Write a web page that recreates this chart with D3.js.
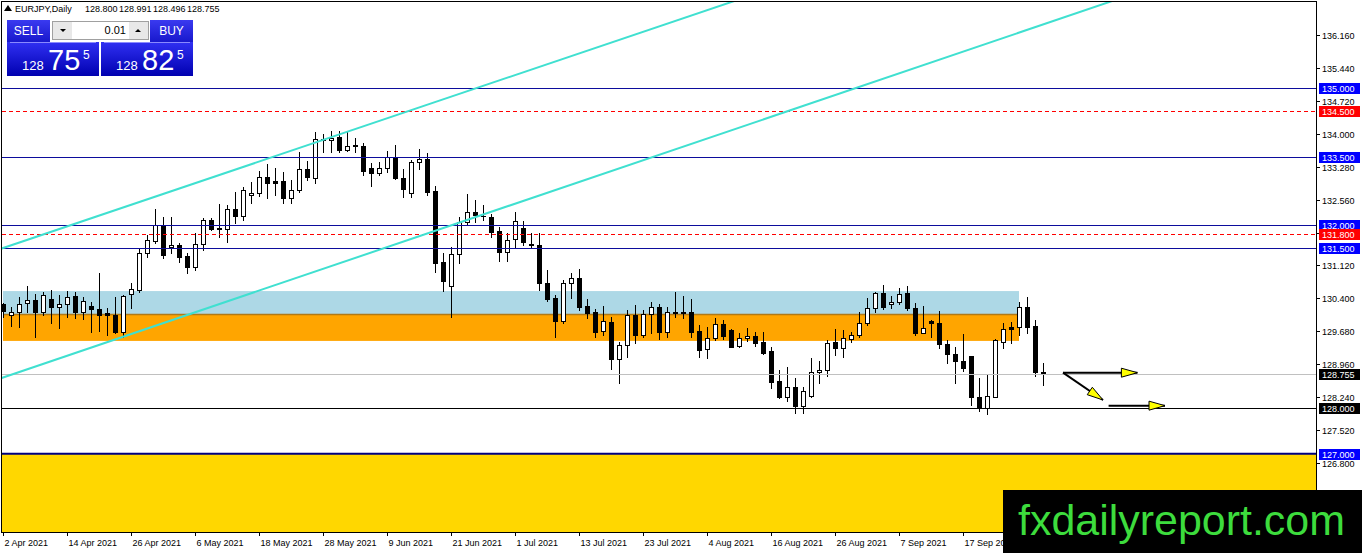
<!DOCTYPE html>
<html>
<head>
<meta charset="utf-8">
<title>EURJPY,Daily</title>
<script src="https://cdnjs.cloudflare.com/ajax/libs/d3/7.8.5/d3.min.js"></script>
<style>
  body { margin: 0; background: #fff; }
  svg { display: block; font-family: "Liberation Sans", Arial, sans-serif; }
</style>
</head>
<body>
<div id="chart"></div>
<script>
// daily EURJPY bars, 2 Apr 2021 .. 1 Oct 2021 (index 0..130)
var open = [130.27,130.03,130.10,130.29,130.37,130.11,130.39,130.22,130.27,130.45,
  130.11,130.23,130.17,130.09,130.04,129.66,130.49,130.58,131.39,131.66,
  132.01,131.52,131.57,131.33,131.08,131.58,132.11,131.95,131.91,132.35,
  132.21,132.65,132.70,133.05,132.96,132.97,132.60,132.76,133.22,133.04,
  133.89,133.87,133.94,133.65,133.76,133.73,133.25,133.14,133.25,133.50,
  133.03,132.70,133.38,133.44,132.75,131.19,130.66,131.36,132.06,132.29,
  132.21,132.17,131.87,131.42,131.69,131.94,131.60,131.57,130.74,130.40,
  129.91,130.73,130.84,130.23,130.11,129.69,129.88,129.07,129.37,130.03,
  129.59,130.05,130.22,129.67,130.09,130.10,130.10,129.69,129.29,129.53,
  129.84,129.71,129.36,129.53,129.58,129.45,129.26,128.59,128.25,128.46,
  128.05,128.27,128.78,128.83,129.44,129.31,129.51,129.60,129.86,130.18,
  130.51,130.28,130.33,130.51,130.20,129.65,129.91,129.86,129.40,129.18,
  129.04,129.14,128.25,128.01,128.25,129.44,129.77,129.77,130.21,129.80,
  128.800];
var high = [130.29,130.21,130.44,130.67,130.49,130.55,130.58,130.47,130.57,130.54,
  130.44,130.31,130.96,130.20,130.44,130.47,130.73,131.47,131.79,132.35,
  132.19,132.17,131.61,131.39,131.82,132.15,132.15,132.46,132.44,132.73,
  132.84,132.95,133.19,133.34,133.26,133.17,132.99,133.61,133.40,134.03,
  133.99,134.06,134.07,134.05,133.90,133.79,133.37,133.39,133.62,133.75,
  133.22,133.43,133.66,133.57,132.86,131.40,131.53,132.17,132.68,132.55,
  132.44,132.24,131.96,131.82,132.30,132.09,131.82,131.82,131.01,130.47,
  130.80,130.96,131.04,130.39,130.16,130.23,129.99,129.45,130.15,130.26,
  130.15,130.31,130.28,130.21,130.53,130.45,130.39,129.82,129.77,129.97,
  129.93,129.72,129.64,129.75,129.67,129.67,129.34,128.83,128.89,128.65,
  128.47,129.09,129.02,129.49,129.72,129.71,129.67,130.11,130.40,130.55,
  130.69,130.46,130.62,130.66,130.29,130.23,129.92,130.13,129.49,129.34,
  129.62,129.15,128.65,128.73,129.51,129.86,129.89,130.31,130.42,129.93,
  128.991];
var low = [130.00,129.80,129.78,130.11,129.55,130.04,129.87,129.76,130.00,129.97,
  129.95,129.67,129.69,129.60,129.65,129.56,130.18,130.53,131.31,131.61,
  131.28,131.40,131.20,130.96,131.01,131.46,131.90,131.75,131.64,132.04,
  132.11,132.49,132.64,132.60,132.66,132.48,132.49,132.73,132.99,132.92,
  133.60,133.60,133.61,133.62,133.61,133.10,132.86,133.10,133.17,133.02,
  132.62,132.62,133.23,132.66,130.98,130.57,130.00,131.18,132.01,132.08,
  132.11,131.74,131.22,131.22,131.53,131.57,131.50,130.58,130.35,129.56,
  129.87,130.40,130.15,129.97,129.56,129.60,128.85,128.54,129.11,129.43,
  129.55,129.64,129.51,129.56,129.99,129.97,129.56,129.11,129.09,129.49,
  129.51,129.33,129.34,129.47,129.36,129.18,128.45,128.22,128.16,127.89,
  127.89,128.25,128.54,128.71,129.16,129.11,129.44,129.55,129.82,130.11,
  130.16,130.20,130.28,130.15,129.60,129.64,129.56,129.31,128.99,128.56,
  128.82,128.07,127.94,127.87,128.24,129.32,129.43,129.60,129.64,128.70,
  128.496];
var close = [130.12,130.10,130.27,130.37,130.11,130.47,130.22,130.28,130.44,130.11,
  130.34,130.16,130.04,130.03,129.67,130.46,130.60,131.39,131.68,132.01,
  131.35,131.57,131.31,131.08,131.58,132.11,131.91,131.91,132.35,132.21,
  132.77,132.70,133.05,132.93,132.93,132.60,132.77,133.22,133.05,133.88,
  133.86,133.90,133.65,133.73,133.73,133.19,133.14,133.25,133.50,133.03,
  132.79,133.39,133.44,132.73,131.18,130.77,131.36,132.08,132.28,132.22,
  132.20,131.86,131.42,131.68,132.09,131.64,131.57,130.73,130.38,129.91,
  130.74,130.84,130.22,130.09,129.67,129.91,129.07,129.38,130.03,129.59,
  130.05,130.22,129.67,130.10,130.10,130.09,129.67,129.27,129.53,129.84,
  129.58,129.34,129.53,129.58,129.43,129.21,128.58,128.25,128.46,128.05,
  128.38,128.78,128.83,129.42,129.31,129.53,129.60,129.86,130.18,130.51,
  130.22,130.33,130.50,130.20,129.65,129.75,129.86,129.40,129.18,129.04,
  128.88,128.24,128.01,128.27,129.49,129.73,129.73,130.21,129.78,128.80,
  128.755];

var tickBars = [0, 8, 16, 24, 32, 40, 48, 56, 64, 72, 80, 88, 96, 104, 112, 120];
var tickLabels = ["2 Apr 2021", "14 Apr 2021", "26 Apr 2021", "6 May 2021", "18 May 2021",
  "28 May 2021", "9 Jun 2021", "21 Jun 2021", "1 Jul 2021", "13 Jul 2021", "23 Jul 2021",
  "4 Aug 2021", "16 Aug 2021", "26 Aug 2021", "7 Sep 2021", "17 Sep 2021"];
var priceTicks = [136.16, 135.44, 134.72, 134.00, 133.28, 132.56, 131.84, 131.12,
  130.40, 129.68, 128.96, 128.24, 127.52, 126.80];

var blueLevels = [135.0, 133.5, 132.0, 131.5];
var redLevels = [134.5, 131.8];
var supportLevel = 128.0;
var floorLevel = 127.0;
var bidPrice = 128.755;
var askPrice = 128.825;
var lotSize = "0.01";

// zones: [top price, bottom price, last bar]
var zoneBlue = [130.56, 130.05, 127.0];
var zoneOrange = [130.05, 129.47, 127.0];

// channel rays: two points each [bar, price]
var channelA = [[0, 131.50], [90, 136.82]];
var channelB = [[0, 128.67], [130, 136.39]];

// projection arrows [bar, price]
var arrowSide = [[132.5, 128.775], [141.8, 128.775]];
var arrowDrop = [[132.5, 128.775], [137.5, 128.178]];
var arrowFlat = [[138.2, 128.054], [145.25, 128.054]];

var W = 1362, H = 553;
var L = 2, T = 2, R = 1316, B = 532;

var x = d3.scaleLinear().domain([0, 130]).range([3, 1043]);
var y = d3.scaleLinear().domain([126.8, 136.16]).range([463, 35]);
var fmt = d3.format(".3f");

var svg = d3.select("#chart").append("svg")
  .attr("width", W).attr("height", H);

var defs = svg.append("defs");
defs.append("clipPath").attr("id", "plot")
  .append("rect").attr("x", L).attr("y", T).attr("width", R - L).attr("height", B - T);
var g1 = defs.append("linearGradient").attr("id", "priceBox")
  .attr("x1", 0).attr("y1", 0).attr("x2", 0).attr("y2", 1);
g1.append("stop").attr("offset", "0%").attr("stop-color", "#3030f2");
g1.append("stop").attr("offset", "100%").attr("stop-color", "#0000b0");
var g2 = defs.append("linearGradient").attr("id", "btn")
  .attr("x1", 0).attr("y1", 0).attr("x2", 0).attr("y2", 1);
g2.append("stop").attr("offset", "0%").attr("stop-color", "#3a3af0");
g2.append("stop").attr("offset", "100%").attr("stop-color", "#1818cc");

var plot = svg.append("g").attr("clip-path", "url(#plot)");

// background zones
plot.append("rect")
  .attr("x", L).attr("y", y(floorLevel))
  .attr("width", R - L).attr("height", B - y(floorLevel))
  .attr("fill", "#ffd700");
plot.append("rect")
  .attr("x", L + 1).attr("y", y(zoneBlue[0]))
  .attr("width", x(zoneBlue[2]) - L - 1).attr("height", y(zoneBlue[1]) - y(zoneBlue[0]))
  .attr("fill", "#add8e6");
plot.append("rect")
  .attr("x", L + 1).attr("y", y(zoneOrange[0]))
  .attr("width", x(zoneOrange[2]) - L - 1).attr("height", y(zoneOrange[1]) - y(zoneOrange[0]))
  .attr("fill", "#ffa500");
plot.append("line")
  .attr("x1", L + 1).attr("x2", x(zoneOrange[2]))
  .attr("y1", y(zoneOrange[0])).attr("y2", y(zoneOrange[0]))
  .attr("stroke", "#b07a18").attr("stroke-width", 1.5);

// candles
var bars = d3.range(open.length);
var px = function (i) { return Math.round(x(i)) + 0.5; };
var candles = plot.append("g").attr("shape-rendering", "crispEdges");
candles.selectAll("line.wick").data(bars).enter().append("line")
  .attr("class", "wick")
  .attr("x1", px).attr("x2", px)
  .attr("y1", function (i) { return Math.round(y(high[i])); })
  .attr("y2", function (i) { return Math.round(y(low[i])) + 1; })
  .attr("stroke", "#000").attr("stroke-width", 1);
candles.selectAll("rect.body").data(bars).enter().append("rect")
  .attr("class", "body")
  .attr("x", function (i) { return px(i) - 2; })
  .attr("y", function (i) { return Math.round(y(Math.max(open[i], close[i]))) + 0.5; })
  .attr("width", 4)
  .attr("height", function (i) {
    return Math.max(0.01, Math.round(y(Math.min(open[i], close[i]))) - Math.round(y(Math.max(open[i], close[i]))));
  })
  .attr("fill", function (i) { return close[i] >= open[i] ? "#fff" : "#000"; })
  .attr("stroke", "#000").attr("stroke-width", 1);

// horizontal levels
function hline(price, color, width, dash) {
  var yy = Math.round(y(price)) + 0.5;
  plot.append("line")
    .attr("x1", L).attr("x2", R).attr("y1", yy).attr("y2", yy)
    .attr("stroke", color).attr("stroke-width", width)
    .attr("stroke-dasharray", dash || null)
    .attr("shape-rendering", "crispEdges");
}
hline(bidPrice, "#c0c0c0", 1);
blueLevels.forEach(function (p) { hline(p, "#0c0c9c", 1); });
redLevels.forEach(function (p) { hline(p, "#ff0000", 1, "4,3"); });
hline(supportLevel, "#000", 1);
plot.append("line")
  .attr("x1", L).attr("x2", R)
  .attr("y1", y(floorLevel)).attr("y2", y(floorLevel))
  .attr("stroke", "#000080").attr("stroke-width", 2);

// channel rays
var xEnd = x.invert(R + 10);
function ray(pts) {
  var s = (pts[1][1] - pts[0][1]) / (pts[1][0] - pts[0][0]);
  var x0 = x.invert(L - 10);
  plot.append("line")
    .attr("x1", x(x0)).attr("y1", y(pts[0][1] + s * (x0 - pts[0][0])))
    .attr("x2", x(xEnd)).attr("y2", y(pts[0][1] + s * (xEnd - pts[0][0])))
    .attr("stroke", "#40e0d0").attr("stroke-width", 2);
}
ray(channelA);
ray(channelB);

// arrows
function arrow(pts) {
  var x1 = x(pts[0][0]), y1 = y(pts[0][1]), x2 = x(pts[1][0]), y2 = y(pts[1][1]);
  plot.append("line")
    .attr("x1", x1).attr("y1", y1).attr("x2", x2).attr("y2", y2)
    .attr("stroke", "#000").attr("stroke-width", 2);
  var a = Math.atan2(y2 - y1, x2 - x1), len = 16, hw = 4.5;
  var bx = x2 - len * Math.cos(a), by = y2 - len * Math.sin(a);
  var nx = -Math.sin(a) * hw, ny = Math.cos(a) * hw;
  plot.append("path")
    .attr("d", "M" + x2 + "," + y2 + "L" + (bx + nx) + "," + (by + ny) + "L" + (bx - nx) + "," + (by - ny) + "Z")
    .attr("fill", "#ffff00").attr("stroke", "#000").attr("stroke-width", 1);
}
arrow(arrowSide);
arrow(arrowDrop);
arrow(arrowFlat);

// frame
svg.append("rect")
  .attr("x", L - 0.5).attr("y", T - 0.5).attr("width", R - L + 1).attr("height", B - T + 1)
  .attr("fill", "none").attr("stroke", "#000").attr("stroke-width", 1)
  .attr("shape-rendering", "crispEdges");

// price axis
var axisR = svg.append("g").attr("font-size", "9px").attr("fill", "#000");
priceTicks.forEach(function (p) {
  var yy = Math.round(y(p)) + 0.5;
  axisR.append("line").attr("x1", R).attr("x2", R + 4).attr("y1", yy).attr("y2", yy)
    .attr("stroke", "#000").attr("shape-rendering", "crispEdges");
  axisR.append("text").attr("x", R + 6).attr("y", yy + 3.5).text(fmt(p));
});

function tag(price, bg) {
  var yy = Math.round(y(price));
  svg.append("rect").attr("x", R + 3).attr("y", yy - 5).attr("width", 41).attr("height", 11)
    .attr("fill", bg);
  svg.append("text").attr("x", R + 6).attr("y", yy + 4)
    .attr("font-size", "9px").attr("fill", "#fff").text(fmt(price));
}
blueLevels.forEach(function (p) { tag(p, "#0000ff"); });
redLevels.forEach(function (p) { tag(p, "#ff0000"); });
tag(bidPrice, "#000");
tag(supportLevel, "#000");
tag(floorLevel, "#0000ff");

// time axis
var axisB = svg.append("g").attr("font-size", "9px").attr("fill", "#000");
tickBars.forEach(function (b, k) {
  var xx = Math.round(x(b)) + 0.5;
  axisB.append("line").attr("x1", xx).attr("x2", xx).attr("y1", B).attr("y2", B + 4)
    .attr("stroke", "#000").attr("shape-rendering", "crispEdges");
  axisB.append("text").attr("x", xx + 1).attr("y", B + 14).text(tickLabels[k]);
});

// title
var last = open.length - 1;
svg.append("path").attr("d", "M4,11L8,5L12,11Z").attr("fill", "#000");
var title = svg.append("text").attr("y", 12).attr("font-size", "9px").attr("fill", "#000");
title.append("tspan").attr("x", 15).text("EURJPY,Daily");
[open[last], high[last], low[last], close[last]].forEach(function (v, k) {
  title.append("tspan").attr("x", 85 + k * 34).text(fmt(v));
});

// one-click trading panel
var panel = svg.append("g");
function priceParts(p) {
  var s = fmt(p);
  return [s.slice(0, 3), s.slice(4, 6), s.slice(6)];
}
function side(x0, label, btnX, price) {
  panel.append("rect").attr("x", btnX).attr("y", 20).attr("width", 43).attr("height", 22)
    .attr("fill", "url(#btn)");
  panel.append("text").attr("x", btnX + 21.5).attr("y", 35).attr("text-anchor", "middle")
    .attr("font-size", "12px").attr("fill", "#fff").text(label);
  panel.append("rect").attr("x", x0).attr("y", 42).attr("width", 92).attr("height", 34)
    .attr("fill", "url(#priceBox)");
  panel.append("line").attr("x1", x0 + 3).attr("x2", x0 + 89).attr("y1", 42.5).attr("y2", 42.5)
    .attr("stroke", "#8a8aff").attr("stroke-width", 1);
  var parts = priceParts(price);
  panel.append("text").attr("x", x0 + 15).attr("y", 70).attr("font-size", "13px")
    .attr("fill", "#fff").text(parts[0]);
  panel.append("text").attr("x", x0 + 41).attr("y", 70).attr("font-size", "29px")
    .attr("fill", "#fff").text(parts[1]);
  panel.append("text").attr("x", x0 + 76).attr("y", 59).attr("font-size", "12px")
    .attr("fill", "#fff").text(parts[2]);
}
side(7, "SELL", 7, bidPrice);
side(101, "BUY", 150, askPrice);

panel.append("rect").attr("x", 52.5).attr("y", 21.5).attr("width", 96).attr("height", 18)
  .attr("fill", "#fff").attr("stroke", "#a0a0a0");
panel.append("rect").attr("x", 53).attr("y", 22).attr("width", 19).attr("height", 17)
  .attr("fill", "#e8e8e8");
panel.append("rect").attr("x", 129).attr("y", 22).attr("width", 19).attr("height", 17)
  .attr("fill", "#e8e8e8");
panel.append("path").attr("d", "M60,29L66,29L63,32Z").attr("fill", "#000");
panel.append("path").attr("d", "M135,32L141,32L138,29Z").attr("fill", "#000");
panel.append("text").attr("x", 126).attr("y", 34).attr("text-anchor", "end")
  .attr("font-size", "11px").attr("fill", "#000").text(lotSize);

// watermark
svg.append("rect").attr("x", 1003).attr("y", 490).attr("width", W - 1003).attr("height", H - 490)
  .attr("fill", "#000");
svg.append("text").attr("x", 1018).attr("y", 535)
  .attr("font-size", "43px").attr("fill", "#3ddc3d")
  .attr("textLength", 327).attr("lengthAdjust", "spacingAndGlyphs")
  .text("fxdailyreport.com");
</script>
</body>
</html>
